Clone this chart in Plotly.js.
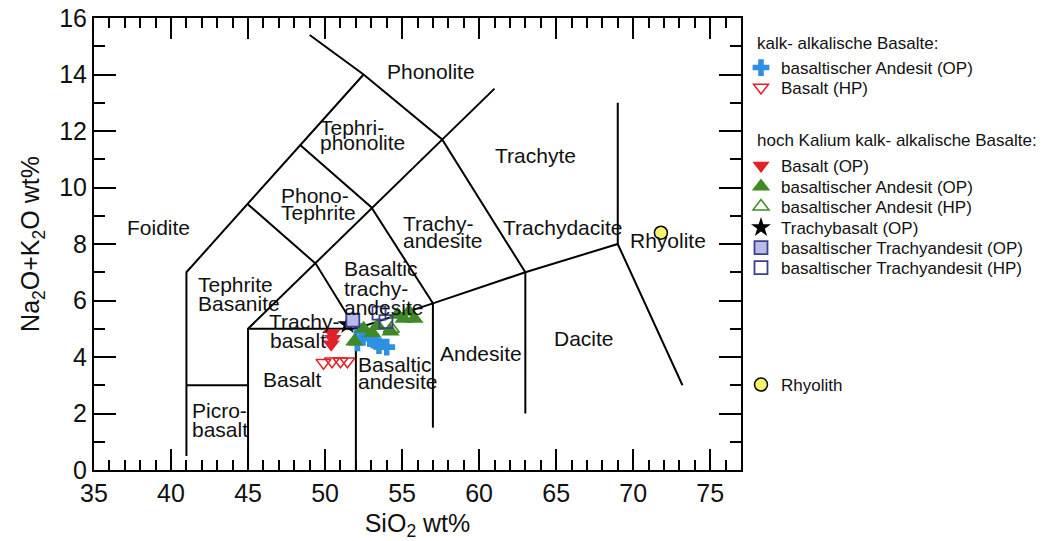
<!DOCTYPE html>
<html>
<head>
<meta charset="utf-8">
<script src="https://cdn.plot.ly/plotly-3.0.1.min.js"></script>
<style>html,body{margin:0;padding:0;background:#fff;}#chart{width:1047px;height:541px;}</style>
</head>
<body>
<div id="chart"></div>
<script>
// TAS field boundaries (SiO2, Na2O+K2O), null separates segments
const boundaryX = [41, 41, 52.5, null, 41, 45, null, 45, 45, 61, null,
  45, 52, 57, 63, 69, 73.2, null, 45, 49.4, 52, null, 48.4, 53, 57, null,
  49, 52.5, 57.6, 63, null, 57, 57, null, 63, 63, null, 69, 69, null, 52, 52];
const boundaryY = [0.5, 7, 14, null, 3, 3, null, 0, 5, 13.5, null,
  5, 5, 5.9, 7, 8, 3, null, 9.4, 7.3, 5, null, 11.5, 9.3, 5.9, null,
  15.4, 14, 11.7, 7, null, 1.5, 5.9, null, 2, 7, null, 8, 13, null, 0, 5];

// Samples
const caBasAndesitOP_x = [52.1, 52.4, 52.9, 53.3, 53.5, 54.0];
const caBasAndesitOP_y = [4.5, 4.9, 4.65, 4.55, 4.4, 4.35];
const caBasaltHP_x = [49.9, 50.45, 51.0, 51.45];
const caBasaltHP_y = [3.8, 3.85, 3.85, 3.85];
const hkBasaltOP_x = [50.45, 50.5, 50.4];
const hkBasaltOP_y = [4.85, 4.65, 4.45];
const hkBasAndesitOP_x = [51.9, 52.5, 53.05, 54.25, 54.7, 55.1, 55.45, 55.8, 53.4];
const hkBasAndesitOP_y = [4.55, 5.0, 4.85, 4.9, 5.5, 5.35, 5.6, 5.35, 5.1];
const hkBasAndesitHP_x = [54.3];
const hkBasAndesitHP_y = [5.0];
const hkTrachybasaltOP_x = [51.45];
const hkTrachybasaltOP_y = [5.15];
const hkBasTrachyandesitOP_x = [51.8];
const hkBasTrachyandesitOP_y = [5.3];
const hkBasTrachyandesitHP_x = [53.5, 53.95];
const hkBasTrachyandesitHP_y = [5.55, 5.25];
const rhyolith_x = [71.8];
const rhyolith_y = [8.4];

// Legend texts
const groupTitles = ["kalk- alkalische Basalte:", "hoch Kalium kalk- alkalische Basalte:"];

// Field names: [text, x, y, xanchor]
const fieldLabels = [
  ["Phonolite", 56.85, 14.09, "center"],
  ["Tephri-", 49.57, 12.14, "left"],
  ["phonolite", 49.57, 11.58, "left"],
  ["Trachyte", 63.68, 11.15, "center"],
  ["Phono-", 47.03, 9.73, "left"],
  ["Tephrite", 47.03, 9.10, "left"],
  ["Foidite", 39.16, 8.57, "center"],
  ["Trachy-", 54.9, 8.71, "left"],
  ["andesite", 54.9, 8.14, "left"],
  ["Trachydacite", 65.44, 8.6, "center"],
  ["Rhyolite", 72.27, 8.11, "center"],
  ["Basaltic", 51.13, 7.15, "left"],
  ["trachy-", 51.13, 6.44, "left"],
  ["andesite", 51.13, 5.77, "left"],
  ["Tephrite", 41.63, 6.58, "left"],
  ["Basanite", 41.63, 5.88, "left"],
  ["Trachy-", 46.25, 5.27, "left"],
  ["basalt", 46.32, 4.60, "left"],
  ["Basalt", 47.88, 3.19, "center"],
  ["Basaltic", 51.98, 3.75, "left"],
  ["andesite", 51.98, 3.12, "left"],
  ["Andesite", 60.1, 4.14, "center"],
  ["Dacite", 66.8, 4.67, "center"],
  ["Picro-", 41.24, 2.12, "left"],
  ["basalt", 41.24, 1.42, "left"]
];

const FONT = "Arial, 'Liberation Sans', sans-serif";
const blue = "#2f8fe2", red = "#e2202a", green = "#3f8a26", navy = "#3b3f8e";

const traces = [
  {x: boundaryX, y: boundaryY, mode: "lines", line: {color: "#000", width: 2}, showlegend: false, hoverinfo: "skip", connectgaps: false},
  {x: caBasAndesitOP_x, y: caBasAndesitOP_y, mode: "markers", name: "basaltischer Andesit (OP)", legend: "legend",
   marker: {symbol: "cross", size: 14, color: blue, line: {width: 0}}},
  {x: caBasaltHP_x, y: caBasaltHP_y, mode: "markers", name: "Basalt (HP)", legend: "legend2",
   marker: {symbol: "triangle-down-open", size: 13, color: red, line: {width: 1.5}}},
  {x: hkBasaltOP_x, y: hkBasaltOP_y, mode: "markers", name: "Basalt (OP)", legend: "legend3",
   marker: {symbol: "triangle-down", size: 15, color: red, line: {width: 0}}},
  {x: hkBasAndesitHP_x, y: hkBasAndesitHP_y, mode: "markers", name: "basaltischer Andesit (HP)", legend: "legend5",
   marker: {symbol: "triangle-up-open", size: 14, color: green, line: {width: 1.5}}},
  {x: hkBasAndesitOP_x, y: hkBasAndesitOP_y, mode: "markers", name: "basaltischer Andesit (OP)", legend: "legend4",
   marker: {symbol: "triangle-up", size: 16, color: green, line: {width: 0}}},
  {x: hkTrachybasaltOP_x, y: hkTrachybasaltOP_y, mode: "markers", name: "Trachybasalt (OP)", legend: "legend6",
   marker: {symbol: "star", size: 15, color: "#000", line: {width: 0}}},
  {x: hkBasTrachyandesitOP_x, y: hkBasTrachyandesitOP_y, mode: "markers", name: "basaltischer Trachyandesit (OP)", legend: "legend7",
   marker: {symbol: "square", size: 13, color: "#b7bbe8", line: {width: 1.8, color: navy}}},
  {x: hkBasTrachyandesitHP_x, y: hkBasTrachyandesitHP_y, mode: "markers", name: "basaltischer Trachyandesit (HP)", legend: "legend8",
   marker: {symbol: "square-open", size: 13, color: navy, line: {width: 1.8}}},
  {x: rhyolith_x, y: rhyolith_y, mode: "markers", name: "Rhyolith", legend: "legend9",
   marker: {symbol: "circle", size: 13, color: "#f4f46a", line: {width: 1.5, color: "#000"}}}
];

const annotations = fieldLabels.map(l => ({
  text: l[0], x: l[1], y: l[2], xref: "x", yref: "y", xanchor: l[3], yanchor: "middle",
  showarrow: false, font: {family: FONT, size: 21, color: "#111"}
}));
[[groupTitles[0], 0.9425], [groupTitles[1], 0.7279]].forEach(g => annotations.push({
  text: g[0], x: 1.0216, y: g[1], xref: "paper", yref: "paper", xanchor: "left", yanchor: "middle",
  showarrow: false, font: {family: FONT, size: 17, color: "#111"}
}));

const legendY = {legend: 0.9292, legend2: 0.8850, legend3: 0.7124, legend4: 0.6659, legend5: 0.6217,
  legend6: 0.5752, legend7: 0.5310, legend8: 0.4867, legend9: 0.2279};

const layout = {
  width: 1047, height: 541,
  margin: {l: 94, r: 306, t: 18, b: 71, pad: 0},
  paper_bgcolor: "#fff", plot_bgcolor: "#fff",
  font: {family: FONT, color: "#111"},
  xaxis: {
    range: [35, 77], tick0: 35, dtick: 5, ticks: "inside", ticklen: 21, tickwidth: 2, tickcolor: "#000",
    minor: {dtick: 1, ticks: "inside", ticklen: 10, tickwidth: 2, tickcolor: "#000"},
    showline: true, linewidth: 2, linecolor: "#000", mirror: "ticks", showgrid: false, zeroline: false,
    tickfont: {size: 25, family: FONT}, title: {text: "SiO<sub>2</sub> wt%", font: {size: 25, family: FONT}, standoff: 8}
  },
  yaxis: {
    range: [0, 16], tick0: 0, dtick: 2, ticks: "inside", ticklen: 22, tickwidth: 2, tickcolor: "#000",
    minor: {dtick: 1, ticks: "inside", ticklen: 11, tickwidth: 2, tickcolor: "#000"},
    showline: true, linewidth: 2, linecolor: "#000", mirror: "ticks", showgrid: false, zeroline: false,
    tickfont: {size: 25, family: FONT}, title: {text: "Na<sub>2</sub>O+K<sub>2</sub>O wt%", font: {size: 25, family: FONT}, standoff: 12}
  },
  annotations: annotations,
  showlegend: true
};
Object.keys(legendY).forEach(k => {
  layout[k] = {x: 1.0, xanchor: "left", y: legendY[k], yanchor: "top",
    font: {size: 17, family: FONT, color: "#111"}, bgcolor: "rgba(0,0,0,0)", itemwidth: 30};
});

Plotly.newPlot("chart", traces, layout, {displayModeBar: false, staticPlot: true});
</script>
</body>
</html>
